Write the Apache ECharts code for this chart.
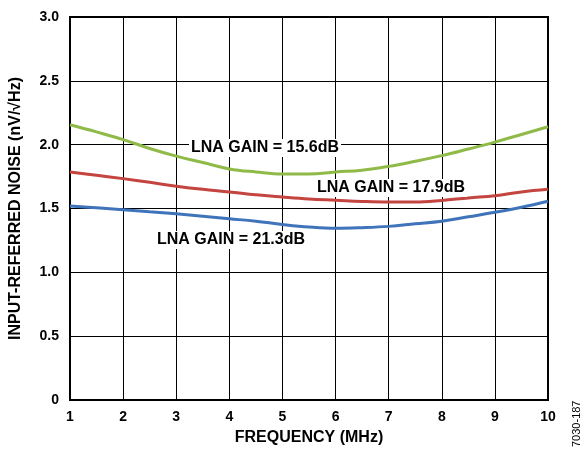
<!DOCTYPE html>
<html><head><meta charset="utf-8">
<script src="https://cdn.jsdelivr.net/npm/echarts@6/dist/echarts.min.js"></script>
<style>html,body{margin:0;padding:0;background:#fff}#c{width:587px;height:451px}</style>
</head><body><div id="c"></div>
<script>
const freq = [1,1.5,2,2.5,3,3.5,4,4.5,5,5.5,6,6.5,7,7.5,8,8.5,9,9.5,10];
const gain156 = [2.156,2.10,2.04,1.97,1.91,1.86,1.81,1.786,1.77,1.77,1.786,1.80,1.83,1.87,1.914,1.966,2.02,2.08,2.14];
const gain179 = [1.786,1.76,1.734,1.705,1.675,1.65,1.63,1.607,1.59,1.575,1.565,1.555,1.55,1.55,1.5625,1.583,1.60,1.63,1.65];
const gain213 = [1.52,1.505,1.49,1.474,1.458,1.44,1.42,1.40,1.375,1.355,1.345,1.35,1.36,1.38,1.40,1.435,1.47,1.51,1.557];
const yTicks = ['0','0.5','1.0','1.5','2.0','2.5','3.0'];
const F = 'Liberation Sans, Arial, sans-serif';
const chart = echarts.init(document.getElementById('c'));
const mk = (arr)=>freq.map((f,i)=>[f,arr[i]]);
chart.setOption({
  animation:false,
  grid:{left:69,right:39,top:17,bottom:50,show:true,borderColor:'#000',borderWidth:2},
  xAxis:{type:'value',min:1,max:10,interval:1,
    name:'FREQUENCY (MHz)',nameLocation:'middle',nameGap:30,
    nameTextStyle:{fontFamily:F,fontWeight:'bold',fontSize:16,color:'#000'},
    axisLine:{lineStyle:{color:'#000',width:2}},axisTick:{show:false},
    axisLabel:{fontFamily:F,fontWeight:'bold',fontSize:14,color:'#000',margin:10},
    splitLine:{show:true,lineStyle:{color:'#000',width:1}}},
  yAxis:{type:'value',min:0,max:3,interval:0.5,
    name:'INPUT-REFERRED NOISE (nV/\u221AHz)',nameLocation:'middle',nameGap:46,
    nameTextStyle:{fontFamily:F,fontWeight:'bold',fontSize:16,color:'#000'},
    axisLine:{lineStyle:{color:'#000',width:2}},axisTick:{show:false},
    axisLabel:{fontFamily:F,fontWeight:'bold',fontSize:14,color:'#000',margin:11,
      formatter:(v)=>yTicks[Math.round(v*2)]},
    splitLine:{show:true,lineStyle:{color:'#000',width:1}}},
  series:[
    {type:'line',smooth:0.4,symbol:'none',data:mk(gain156),lineStyle:{color:'#8fba48',width:3},z:3},
    {type:'line',smooth:0.4,symbol:'none',data:mk(gain179),lineStyle:{color:'#c4443f',width:3},z:3},
    {type:'line',smooth:0.4,symbol:'none',data:mk(gain213),lineStyle:{color:'#3f74ba',width:3},z:3}
  ],
  graphic:[
    {type:'text',x:189,y:148,z:10,style:{text:'LNA GAIN = 15.6dB',fontFamily:F,fontWeight:'bold',fontSize:16,fill:'#000',backgroundColor:'#fff',padding:[1,2],verticalAlign:'middle'}},
    {type:'text',x:315,y:188,z:10,style:{text:'LNA GAIN = 17.9dB',fontFamily:F,fontWeight:'bold',fontSize:16,fill:'#000',backgroundColor:'#fff',padding:[1,2],verticalAlign:'middle'}},
    {type:'text',x:155,y:240,z:10,style:{text:'LNA GAIN = 21.3dB',fontFamily:F,fontWeight:'bold',fontSize:16,fill:'#000',backgroundColor:'#fff',padding:[1,2],verticalAlign:'middle'}},
    {type:'text',x:571,y:447,rotation:Math.PI/2,z:10,style:{text:'7030-187',fontFamily:F,fontSize:11,fill:'#000'}}
  ]
});
</script></body></html>
